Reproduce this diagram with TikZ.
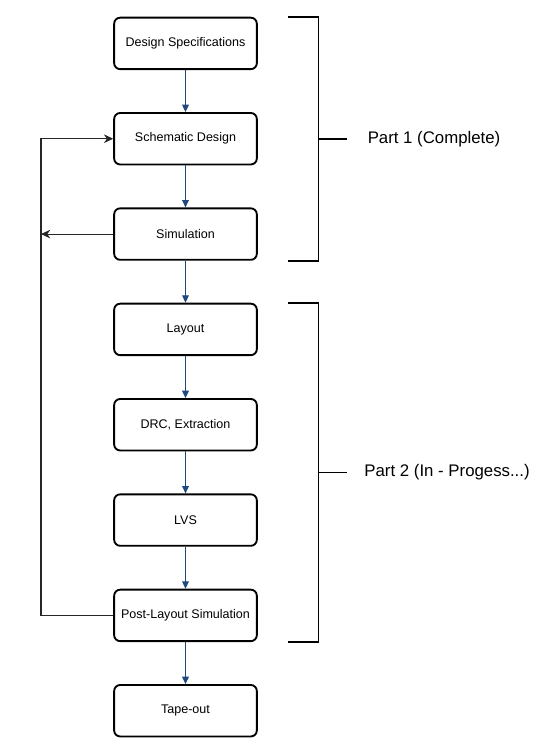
\documentclass[tikz,border=0pt]{standalone}
\usepackage{fontspec}
\setmainfont{Liberation Sans}
\usetikzlibrary{arrows.meta, positioning, calc}
\definecolor{flowblue}{RGB}{31,73,125}

\begin{document}
\begin{tikzpicture}[x=0.75pt, y=-0.75pt,
  stepbox/.style={draw, line width=1.4pt, rounded corners=4.5pt, minimum width=107pt, minimum height=38.6pt, inner sep=2pt, font=\fontsize{9.4}{11}\selectfont},
  flow/.style={draw=flowblue, line width=0.8pt, -{Triangle[length=5.5pt, width=5pt]}},
  loopback/.style={draw=black!85, line width=0.8pt, -{Stealth[length=7pt, width=6.5pt]}},
  bracket/.style={line width=1.2pt},
  partlabel/.style={anchor=west, inner sep=0pt, font=\fontsize{12.6}{15}\selectfont}]
\useasboundingbox (0,0) rectangle (545,744);

% process steps
\node[stepbox] (spec) at (185.5,43.4) {Design Specifications};
\node[stepbox, below=31.5pt of spec] (schem) {Schematic Design};
\node[stepbox, below=31.5pt of schem] (sim) {Simulation};
\node[stepbox, below=31.5pt of sim] (layout) {Layout};
\node[stepbox, below=31.5pt of layout] (drc) {DRC, Extraction};
\node[stepbox, below=31.5pt of drc] (lvs) {LVS};
\node[stepbox, below=31.5pt of lvs] (postsim) {Post-Layout Simulation};
\node[stepbox, below=31.5pt of postsim] (tapeout) {Tape-out};

\foreach \a/\b in {spec/schem, schem/sim, sim/layout, layout/drc, drc/lvs, lvs/postsim, postsim/tapeout}
  \draw[flow] (\a) -- (\b);

% feedback loops
\coordinate (fbline) at (41,0);
\draw[loopback] (postsim.west) -- (postsim.west -| fbline) |- (schem.west);
\draw[loopback] (sim.west) -- (sim.west -| fbline);

% brackets
\draw[bracket] ([xshift=23pt]spec.north east) -- ++(22.5pt,0) coordinate (b1top)
  |- ([xshift=23pt]sim.south east) coordinate (b1end);
\coordinate (b1mid) at ($(b1top)!0.5!(b1top |- b1end)$);
\draw[bracket] (b1mid) -- ++(21.3pt,0) coordinate (b1tick);
\node[partlabel, xshift=15.5pt] (part1) at (b1tick) {Part 1 (Complete)};

\draw[bracket] ([xshift=23pt]layout.north east) -- ++(22.5pt,0) coordinate (b2top)
  |- ([xshift=23pt]postsim.south east) coordinate (b2end);
\coordinate (b2mid) at ($(b2top)!0.5!(b2top |- b2end)$);
\draw[bracket] (b2mid) -- ++(21.3pt,0) coordinate (b2tick);
\node[partlabel, xshift=13pt] (part2) at (b2tick) {Part 2 (In - Progess...)};
\end{tikzpicture}
\end{document}
